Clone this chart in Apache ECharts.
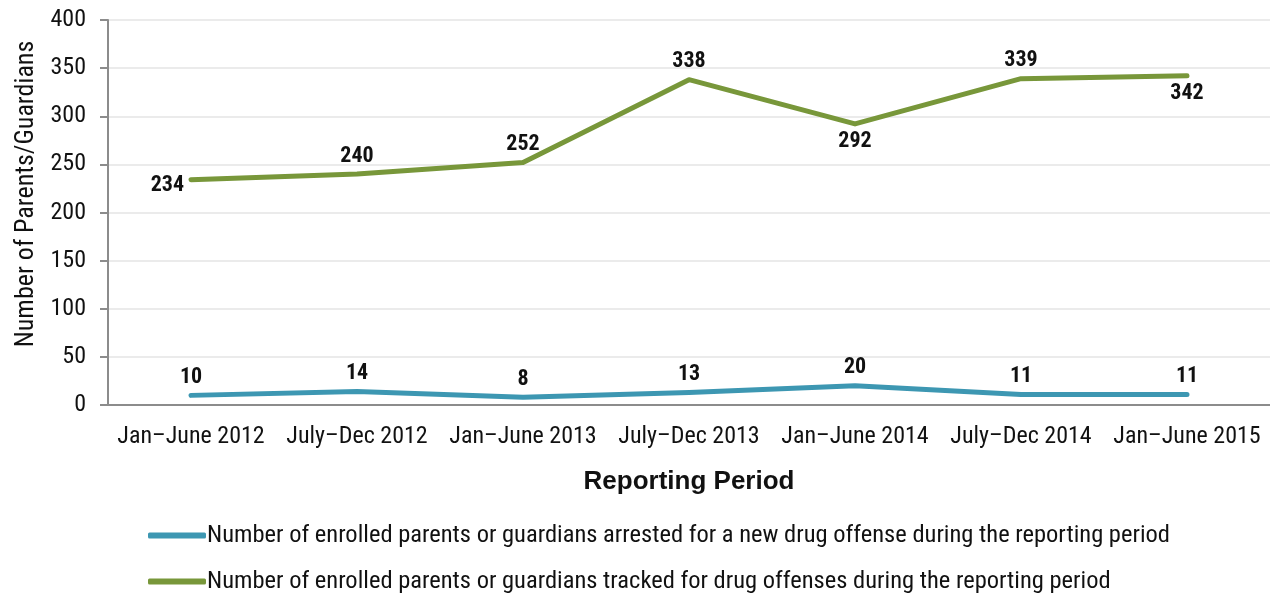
<!DOCTYPE html>
<html>
<head>
<meta charset="utf-8">
<script src="https://cdn.jsdelivr.net/npm/echarts@6/dist/echarts.min.js"></script>
<style>
  html, body { margin: 0; padding: 0; background: #fff; }
  #chart { width: 1270px; height: 596px; }
</style>
</head>
<body>
<div id="chart"></div>
<script>
// Reporting periods along the x axis
const periods = ['Jan\u2013June 2012', 'July\u2013Dec 2012', 'Jan\u2013June 2013', 'July\u2013Dec 2013', 'Jan\u2013June 2014', 'July\u2013Dec 2014', 'Jan\u2013June 2015'];

// Parents/guardians arrested for a new drug offense
const arrested = [10, 14, 8, 13, 20, 11, 11];

// Parents/guardians tracked for drug offenses
const tracked = [234, 240, 252, 338, 292, 339, 342];

// Label placement for the tracked series
const trackedLabelPos = ['left', 'top', 'top', 'top', 'bottom', 'top', 'bottom'];

const seriesNames = [
  'Number of enrolled parents or guardians arrested for a new drug offense during the reporting period',
  'Number of enrolled parents or guardians tracked for drug offenses during the reporting period'
];

const narrow = '"Roboto Condensed", "Liberation Sans Narrow", "Arial Narrow", Roboto, sans-serif';
const BLUE = '#3D97B2';
const GREEN = '#78973A';

const labelStyle = {
  show: true,
  fontFamily: narrow,
  fontWeight: 'bold',
  fontSize: 22,
  color: '#111',
  distance: 7
};

const legendBase = {
  orient: 'horizontal',
  left: 143,
  itemWidth: 58,
  itemHeight: 6,
  icon: 'roundRect',
  textStyle: { fontFamily: narrow, fontSize: 24.5, color: '#111', padding: [0, 0, 0, -4] }
};

const chart = echarts.init(document.getElementById('chart'));
chart.setOption({
  animation: false,
  grid: { left: 108, right: 0, top: 20, bottom: 191 },
  legend: [
    Object.assign({}, legendBase, { top: 518, data: [seriesNames[0]] }),
    Object.assign({}, legendBase, { top: 564, data: [seriesNames[1]] })
  ],
  graphic: [{
    type: 'text',
    x: 26,
    y: 194,
    rotation: Math.PI / 2,
    style: {
      text: 'Number of Parents/Guardians',
      fontFamily: narrow,
      fontSize: 26,
      fill: '#111',
      textAlign: 'center',
      textVerticalAlign: 'middle'
    }
  }],
  xAxis: {
    type: 'category',
    data: periods,
    name: 'Reporting Period',
    nameLocation: 'middle',
    nameGap: 64,
    nameTextStyle: { fontFamily: '"Liberation Sans", Arial, sans-serif', fontWeight: 'bold', fontSize: 26, color: '#111' },
    axisLine: { lineStyle: { color: '#8c8c8c', width: 2 } },
    axisTick: { show: false },
    axisLabel: { interval: 0, fontFamily: narrow, fontSize: 24, color: '#111', margin: 20 }
  },
  yAxis: {
    type: 'value',
    min: 0,
    max: 400,
    interval: 50,
    axisLine: { show: true, lineStyle: { color: '#8c8c8c', width: 2 } },
    axisTick: { show: true, length: 8, lineStyle: { color: '#8c8c8c', width: 2 } },
    axisLabel: { fontFamily: narrow, fontSize: 24, color: '#111', margin: 22 },
    splitLine: { lineStyle: { color: '#ebebeb', width: 2 } }
  },
  series: [
    {
      name: seriesNames[0],
      type: 'line',
      data: arrested,
      symbol: 'circle',
      symbolSize: 0,
      showSymbol: true,
      color: BLUE,
      lineStyle: { color: BLUE, width: 5, cap: 'round', join: 'round' },
      label: Object.assign({}, labelStyle, { position: 'top' })
    },
    {
      name: seriesNames[1],
      type: 'line',
      data: tracked.map((v, i) => ({
        value: v,
        label: trackedLabelPos[i] === 'left'
          ? { position: 'left', offset: [0, 6] }
          : { position: trackedLabelPos[i] }
      })),
      symbol: 'circle',
      symbolSize: 0,
      showSymbol: true,
      color: GREEN,
      lineStyle: { color: GREEN, width: 5, cap: 'round', join: 'round' },
      label: Object.assign({}, labelStyle)
    }
  ]
});
</script>
</body>
</html>
